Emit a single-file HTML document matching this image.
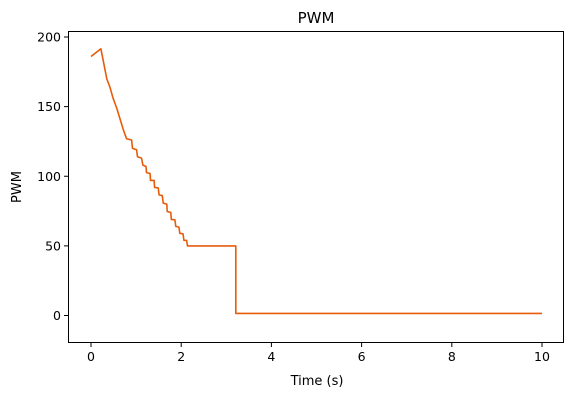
<!DOCTYPE html>
<html><head><meta charset="utf-8"><style>
body{margin:0;background:#fff;width:574px;height:406px;overflow:hidden}
text{font-family:"DejaVu Sans","Liberation Sans",sans-serif;fill:#000}
</style></head><body>
<svg id="chart" width="574" height="406" xmlns="http://www.w3.org/2000/svg">
<text x="316" y="23" font-size="15" text-anchor="middle">PWM</text>
<rect x="68.5" y="31.5" width="495" height="311" fill="none" stroke="#000" stroke-width="1"/>
<g id="xticks"></g>
<g id="yticks"></g>
<text x="317" y="385" font-size="13" text-anchor="middle">Time (s)</text>
<text x="21" y="187" font-size="13" text-anchor="middle" transform="rotate(-90 21 187)">PWM</text>
<path id="line" fill="none" stroke="#e65c0a" stroke-width="1.6" stroke-linejoin="round"/>
</svg>
<script>
const times=[0,0.22,0.35,0.42,0.49,0.57,0.64,0.72,0.79,0.90,0.92,1.01,1.03,1.12,1.15,1.22,1.23,1.31,1.32,1.40,1.41,1.49,1.51,1.58,1.60,1.68,1.69,1.77,1.78,1.86,1.88,1.95,1.97,2.04,2.06,2.12,2.14,3.21,3.21,10];
const pwm=[186,191.5,170,164,156,149,141.5,133,127,126,120,119,114,113,108,107,102.6,102,97,97,92,91.6,86.6,86,80.7,80,74.7,74,69,68.7,64,63.5,59,58.7,54,53.9,50,50,1.5,1.5];
const xTicks=[0,2,4,6,8,10];
const yTicks=[0,50,100,150,200];
const X=t=>91+t*45.1;
const Y=v=>315.5-v*1.3925;
const NS='http://www.w3.org/2000/svg';
const xg=document.getElementById('xticks'),yg=document.getElementById('yticks');
xTicks.forEach(t=>{
 const l=document.createElementNS(NS,'line');
 
 
 l.setAttribute('x1',X(t));l.setAttribute('x2',X(t));l.setAttribute('y1',343);l.setAttribute('y2',347);l.setAttribute('stroke','#000');
 xg.appendChild(l);
 const s=document.createElementNS(NS,'text');
 
 
 s.setAttribute('x',X(t));s.setAttribute('y',361);s.setAttribute('font-size','12.5');s.setAttribute('text-anchor','middle');
 s.textContent=t;xg.appendChild(s);
});
yTicks.forEach(v=>{
 const l=document.createElementNS(NS,'line');
 
 
 l.setAttribute('x1',64);l.setAttribute('x2',68);l.setAttribute('y1',Y(v));l.setAttribute('y2',Y(v));l.setAttribute('stroke','#000');
 yg.appendChild(l);
 const s=document.createElementNS(NS,'text');
 
 
 s.setAttribute('x',61);s.setAttribute('y',Y(v)+4.5);s.setAttribute('font-size','12.5');s.setAttribute('text-anchor','end');
 s.textContent=v;yg.appendChild(s);
});
document.getElementById('line').setAttribute('d',times.map((t,i)=>(i?'L':'M')+X(t).toFixed(1)+','+Y(pwm[i]).toFixed(1)).join(''));
</script>
</body></html>
